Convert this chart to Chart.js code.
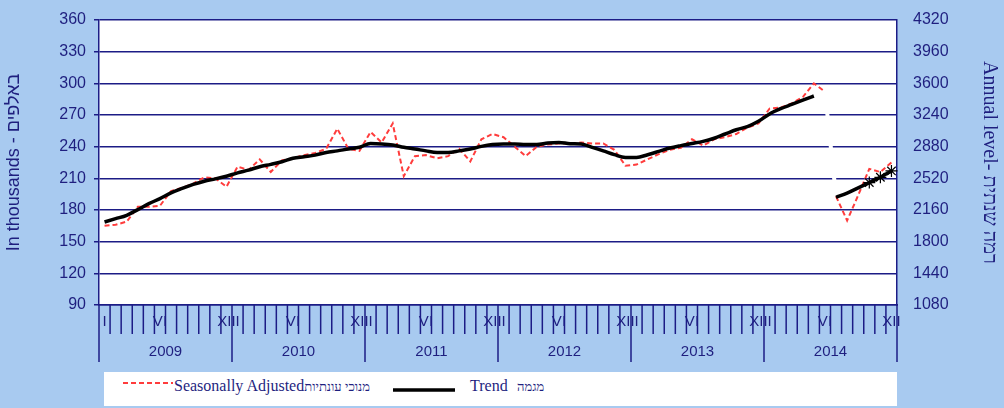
<!DOCTYPE html>
<html>
<head>
<meta charset="utf-8">
<script src="https://cdn.jsdelivr.net/npm/chart.js@4.4.1/dist/chart.umd.min.js"></script>
<style>
  body { margin: 0; background: #a8caf0; }
  #wrap { position: relative; width: 1004px; height: 408px; }
  #legend { position: absolute; left: 104px; top: 372px; width: 793px; height: 34px; background: #fff;
            font-family: "Liberation Serif", serif; color: #1f1f7f; }
  #legend .it { position: absolute; top: 4px; font-size: 16px; line-height: 20px; white-space: nowrap; }
  #legend .he { font-size: 13px; }
  #legend svg { position: absolute; }
</style>
</head>
<body>
<div id="wrap">
  <canvas id="chart" width="1004" height="408"></canvas>
  <div id="legend"></div>
</div>
<script>
const years = ['2009', '2010', '2011', '2012', '2013', '2014'];
const romans = ['I', 'II', 'III', 'IV', 'V', 'VI', 'VII', 'VIII', 'IX', 'X', 'XI', 'XII'];
const shownMonths = ['I', 'VI', 'XII'];

// monthly, Jan 2009 .. Dec 2014, in thousands
const seasonallyAdjusted = [
  165, 166, 169, 183, 183, 184, 198, 201, 205, 211, 210, 202,
  221, 218, 228, 216, 227, 229, 232, 234, 238, 257, 238, 236,
  254, 244, 262, 212, 231, 232, 229, 231, 238, 226, 247, 252,
  249, 240, 231, 240, 242, 243, 243, 244, 243, 243, 237, 222,
  223, 228, 233, 237, 239, 247, 241, 247, 249, 252, 258, 262,
  276, 277, 281, 287, 300, 292, 193, 170, 194, 219, 216, 225
];
const trend = [
  168.6, 171.8, 175, 180.4, 186, 190.8, 196.2, 200.4, 204.2, 207.3, 209.5, 212,
  215.2, 217.8, 221, 223.2, 225.7, 229, 230.5, 232, 234.5, 236, 237.8, 239.4,
  243, 242.6, 241.6, 239.4, 237.8, 236, 234.5, 234.5, 236, 237.8, 240.3, 242,
  242.5, 242.5, 242, 242, 243.5, 244, 242.8, 242.5, 239.4, 236, 232.4, 229.8,
  229.8, 232.4, 235.5, 238.7, 241, 243, 245, 248, 252, 256, 259, 264,
  271, 276, 280, 284, 288, null, 192, 196, 201, 206, 211, 217
];
const provisionalFrom = 69;   // trend points shown with an asterisk
const seriesBreakAt = 65;     // SA line is broken between Jun and Jul 2014

const leftMin = 90, leftMax = 360, leftStep = 30;
const rightMin = 1080, rightMax = 4320, rightStep = 360;

const saName = ['Seasonally Adjusted', 'מנוכי עונתיות'];
const trendName = ['Trend', 'מגמה'];

const labels = [];
years.forEach(y => romans.forEach(m => labels.push(m + '-' + y)));

const navy = '#1c1c86';
const textNavy = '#1f1f7f';

const axisDecor = {
  id: 'axisDecor',
  beforeDraw(chart) {
    const { ctx, chartArea: a } = chart;
    ctx.save();
    ctx.fillStyle = '#ffffff';
    ctx.fillRect(a.left, a.top, a.right - a.left, a.bottom - a.top);
    ctx.restore();
  },
  afterDraw(chart) {
    const { ctx, chartArea: a, scales: { x } } = chart;
    ctx.save();
    ctx.strokeStyle = navy;
    ctx.lineWidth = 1.5;
    for (let i = 0; i <= labels.length; i++) {
      const px = x.getPixelForValue(i - 0.5);
      const len = i % 12 === 0 ? 57 : 29;
      ctx.beginPath();
      ctx.moveTo(px, a.bottom);
      ctx.lineTo(px, a.bottom + len);
      ctx.stroke();
    }
    ctx.fillStyle = textNavy;
    ctx.font = '15px "Liberation Sans"';
    ctx.textAlign = 'center';
    ctx.textBaseline = 'middle';
    years.forEach((y, k) => ctx.fillText(y, x.getPixelForValue(k * 12 + 5.5), a.bottom + 47));
    ctx.restore();
  }
};

new Chart(document.getElementById('chart'), {
  type: 'line',
  data: {
    labels: labels,
    datasets: [{
      label: saName.join(' '),
      data: seasonallyAdjusted,
      borderColor: '#ff3c3c',
      borderWidth: 2,
      borderDash: [5, 3],
      pointRadius: 0,
      tension: 0,
      order: 2,
      segment: {
        borderColor: c => c.p0DataIndex === seriesBreakAt ? '#ffffff' : undefined,
        borderDash: c => c.p0DataIndex === seriesBreakAt ? [] : undefined,
        borderWidth: c => c.p0DataIndex === seriesBreakAt ? 4 : undefined
      }
    }, {
      label: trendName.join(' '),
      data: trend,
      borderColor: '#000000',
      borderWidth: 3.5,
      cubicInterpolationMode: 'monotone',
      spanGaps: false,
      order: 1,
      pointStyle: 'star',
      pointRadius: trend.map((v, i) => i >= provisionalFrom ? 6 : 0),
      pointBorderWidth: 1.2,
      pointBorderColor: '#000000',
      pointBackgroundColor: '#000000'
    }]
  },
  options: {
    responsive: false,
    animation: false,
    layout: { padding: { top: 20, left: 0, right: 0, bottom: 0 } },
    plugins: { legend: { display: false }, tooltip: { enabled: false } },
    scales: {
      x: {
        offset: true,
        afterFit: s => { s.height = 103; },
        grid: { display: false, drawTicks: false, offset: true },
        border: { display: true, color: navy, width: 1.5 },
        ticks: {
          autoSkip: false, maxRotation: 0, padding: 8,
          color: textNavy, font: { family: 'Liberation Sans', size: 15 },
          callback: function (v) {
            const m = this.getLabelForValue(v).split('-')[0];
            return shownMonths.includes(m) ? m : '';
          }
        }
      },
      y: {
        position: 'left',
        min: leftMin, max: leftMax,
        afterFit: s => { s.width = 99; },
        grid: { color: navy, lineWidth: 1.5, tickLength: 5 },
        border: { display: true, color: navy, width: 1.5 },
        ticks: { stepSize: leftStep, padding: 8, color: textNavy, font: { family: 'Liberation Sans', size: 16 },
                 callback: v => String(v) },
        title: {
          display: true, text: 'In thousands - באלפים', color: textNavy,
          font: { family: 'Liberation Sans', size: 18 }, padding: { top: 3, bottom: 0 }
        }
      },
      y2: {
        position: 'right',
        min: rightMin, max: rightMax,
        afterFit: s => { s.width = 107; },
        grid: { display: true, drawOnChartArea: false, drawTicks: true, tickLength: 14, tickColor: 'rgba(0,0,0,0)' },
        border: { display: true, color: navy, width: 1.5 },
        ticks: { stepSize: rightStep, padding: 2, color: textNavy, font: { family: 'Liberation Sans', size: 16 },
                 callback: v => String(v) },
        title: {
          display: true, text: 'Annual level- רמה שנתית', color: textNavy,
          font: { family: 'Liberation Serif', size: 20 }, padding: { top: 3, bottom: 0 }
        }
      }
    }
  },
  plugins: [axisDecor]
});

// legend box under the chart
const legend = document.getElementById('legend');
legend.innerHTML =
  '<svg style="left:19px;top:9px" width="50" height="4"><line x1="0" y1="2" x2="50" y2="2" stroke="#ff3c3c" stroke-width="2" stroke-dasharray="5,3"/></svg>' +
  '<div class="it" style="left:70px">' + saName[0] + '<span class="he">' + saName[1] + '</span></div>' +
  '<svg style="left:289px;top:16px" width="62" height="4"><line x1="0" y1="2" x2="62" y2="2" stroke="#000" stroke-width="3.5"/></svg>' +
  '<div class="it" style="left:366px">' + trendName[0] + '</div>' +
  '<div class="it" style="left:413px"><span class="he">' + trendName[1] + '</span></div>';
</script>
</body>
</html>
